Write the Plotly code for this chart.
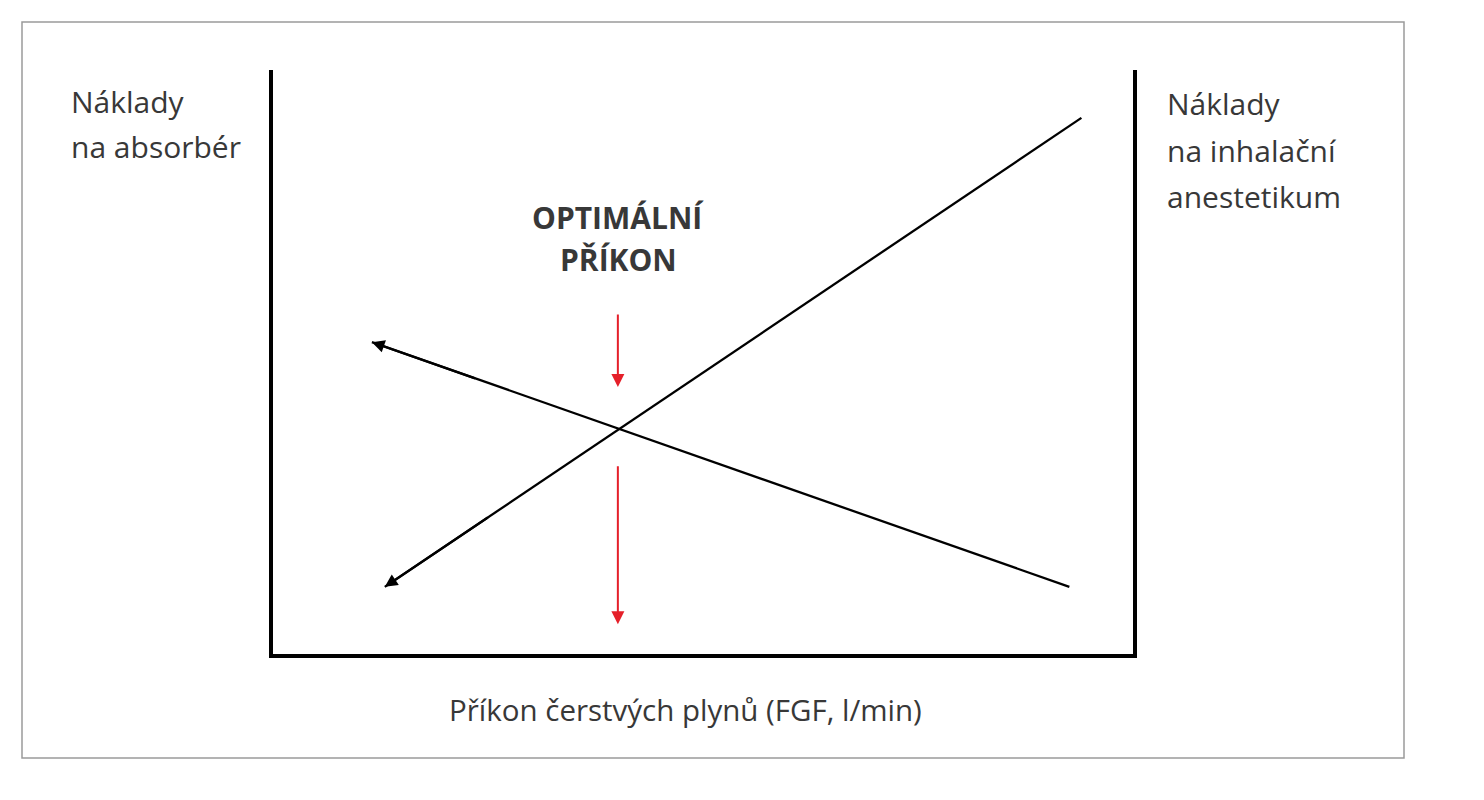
import plotly.graph_objects as go

# conceptual data: fresh gas flow (x) vs. cost (y), both on a 0-10 scale
fgf_inhal = [1.30, 9.40]      # cost of inhaled anaesthetic rises with FGF
cost_inhal = [1.15, 9.18]
fgf_absorb = [1.15, 9.26]     # cost of absorber falls with FGF
cost_absorb = [5.34, 1.15]

optimum_fgf = 4.01
optimum_upper = [5.84, 4.57]  # red arrow above the crossing
optimum_lower = [3.24, 0.51]  # red arrow below the crossing

label_left = ["Náklady", "na absorbér"]
label_right = ["Náklady", "na inhalační", "anestetikum"]
label_optimum = ["OPTIMÁLNÍ", "PŘÍKON"]
label_x = "Příkon čerstvých plynů (FGF, l/min)"

W, H = 1484, 800
OFFSET = 8  # page body margin in the browser
FONT = "Open Sans"
TEXT_COLOR = "#383838"


def px(x):
    return (x - OFFSET) / W


def py(y):
    return 1 - (y - OFFSET) / H


fig = go.Figure()

fig.add_trace(go.Scatter(
    x=fgf_inhal, y=cost_inhal, mode="lines",
    line=dict(color="black", width=2.3), hoverinfo="skip", showlegend=False,
))
fig.add_trace(go.Scatter(
    x=fgf_absorb, y=cost_absorb, mode="lines", yaxis="y2",
    line=dict(color="black", width=2.3), hoverinfo="skip", showlegend=False,
))

annotations = []

# arrowheads at the lower-left end of both lines
for xs, ys in [(fgf_inhal, cost_inhal), (fgf_absorb, cost_absorb)]:
    t = 0.15
    annotations.append(dict(
        x=xs[0], y=ys[0], xref="x", yref="y",
        ax=xs[0] + t * (xs[1] - xs[0]), ay=ys[0] + t * (ys[1] - ys[0]),
        axref="x", ayref="y", text="", showarrow=True,
        arrowhead=2, arrowsize=1.1, arrowwidth=2.3, arrowcolor="black",
    ))

# red arrows marking the optimum
for seg in [optimum_upper, optimum_lower]:
    annotations.append(dict(
        x=optimum_fgf, y=seg[1], xref="x", yref="y",
        ax=optimum_fgf, ay=seg[0], axref="x", ayref="y", text="", showarrow=True,
        arrowhead=2, arrowsize=1.3, arrowwidth=2, arrowcolor="#e5202a",
    ))

# text labels
for i, s in enumerate(label_left):
    annotations.append(dict(
        x=px(69), y=py(102 + 45 * i), xref="paper", yref="paper",
        xanchor="left", yanchor="middle", text=s, showarrow=False,
        font=dict(family=FONT, size=30, color=TEXT_COLOR),
    ))
for i, s in enumerate(label_right):
    annotations.append(dict(
        x=px(1165), y=py(103 + 47 * i), xref="paper", yref="paper",
        xanchor="left", yanchor="middle", text=s, showarrow=False,
        font=dict(family=FONT, size=30, color=TEXT_COLOR),
    ))
for i, s in enumerate(label_optimum):
    annotations.append(dict(
        x=px(618), y=py(218 + 42 * i), xref="paper", yref="paper",
        xanchor="center", yanchor="middle", text=f"<b>{s}</b>", showarrow=False,
        font=dict(family=FONT, size=30, color=TEXT_COLOR),
    ))
annotations.append(dict(
    x=px(685), y=py(709), xref="paper", yref="paper",
    xanchor="center", yanchor="middle", text=label_x, showarrow=False,
    font=dict(family=FONT, size=29.5, color=TEXT_COLOR),
))

axis_common = dict(
    range=[0, 10], showgrid=False, zeroline=False, showticklabels=False,
    ticks="", showline=True, linecolor="black", linewidth=4,
)

fig.update_layout(
    width=W, height=H,
    margin=dict(l=0, r=0, t=0, b=0),
    paper_bgcolor="white", plot_bgcolor="white",
    xaxis=dict(domain=[px(273), px(1133)], **axis_common),
    yaxis=dict(domain=[py(654), py(70)], **axis_common),
    yaxis2=dict(overlaying="y", side="right", **axis_common),
    annotations=annotations,
    shapes=[dict(
        type="rect", xref="paper", yref="paper",
        x0=px(22), x1=px(1404), y0=py(758), y1=py(22),
        line=dict(color="#9a9a9a", width=1.5),
    )],
    showlegend=False,
)

fig.write_html("out.html")
